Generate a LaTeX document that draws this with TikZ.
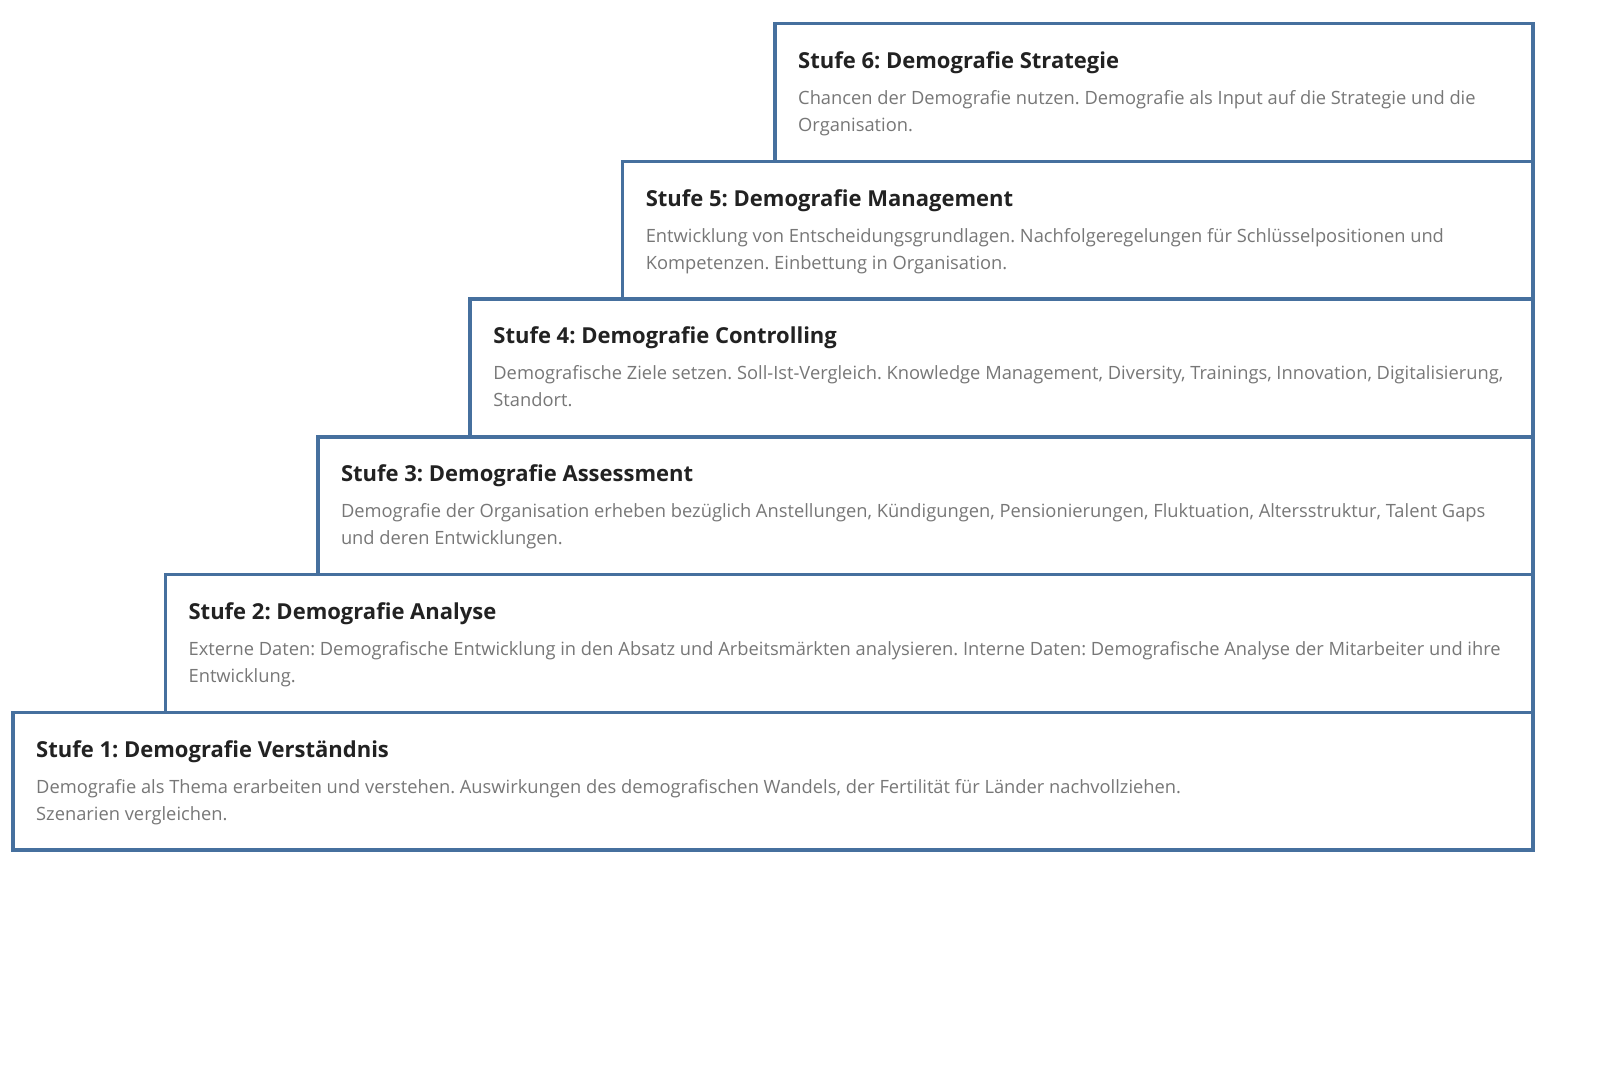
\documentclass[tikz,border=0pt]{standalone}
\usepackage{fontspec}
\setmainfont{Open Sans}
\frenchspacing
\definecolor{boxblue}{RGB}{70,112,158}
\definecolor{titlecol}{RGB}{34,34,34}
\definecolor{bodycol}{RGB}{119,119,119}
\tikzset{
  stepframe/.style={draw=boxblue, line width=3.5pt, fill=white},
  steptitle/.style={anchor=base west, inner sep=0pt, text=titlecol, font=\fontsize{22}{27}\selectfont\bfseries},
  stepbody/.style={anchor=base west, inner sep=0pt, text=bodycol, font=\fontsize{18.3}{27}\selectfont}
}
\begin{document}
\begin{tikzpicture}[x=1pt,y=-1pt]
\useasboundingbox (0,0) rectangle (1619,1084);
\foreach \i/\ti/\la/\lb in {
 1/{Stufe 1: Demografie Verständnis}/{Demografie als Thema erarbeiten und verstehen. Auswirkungen des demografischen Wandels, der Fertilität für Länder nachvollziehen.}/{Szenarien vergleichen.},
 2/{Stufe 2: Demografie Analyse}/{Externe Daten: Demografische Entwicklung in den Absatz und Arbeitsmärkten analysieren. Interne Daten: Demografische Analyse der Mitarbeiter und ihre}/{Entwicklung.},
 3/{Stufe 3: Demografie Assessment}/{Demografie der Organisation erheben bezüglich Anstellungen, Kündigungen, Pensionierungen, Fluktuation, Altersstruktur, Talent Gaps}/{und deren Entwicklungen.},
 4/{Stufe 4: Demografie Controlling}/{Demografische Ziele setzen. Soll-Ist-Vergleich. Knowledge Management, Diversity, Trainings, Innovation, Digitalisierung,}/{Standort.},
 5/{Stufe 5: Demografie Management}/{Entwicklung von Entscheidungsgrundlagen. Nachfolgeregelungen für Schlüsselpositionen und}/{Kompetenzen. Einbettung in Organisation.},
 6/{Stufe 6: Demografie Strategie}/{Chancen der Demografie nutzen. Demografie als Input auf die Strategie und die}/{Organisation.}} {
  \pgfmathsetmacro{\L}{13+152.4*(\i-1)}
  \pgfmathsetmacro{\T}{850-137.75*\i}
  \pgfmathsetmacro{\B}{\T+137.75}
  \draw[stepframe] (\L,\T) rectangle (1533,\B);
  \node[steptitle] (t\i) at (\L+23,\T+44.75) {\ti};
  \node[stepbody] (a\i) at (\L+23,\T+80.75) {\la};
  \node[stepbody] (b\i) at (\L+23,\T+107.75) {\lb};
}
\end{tikzpicture}
\end{document}
